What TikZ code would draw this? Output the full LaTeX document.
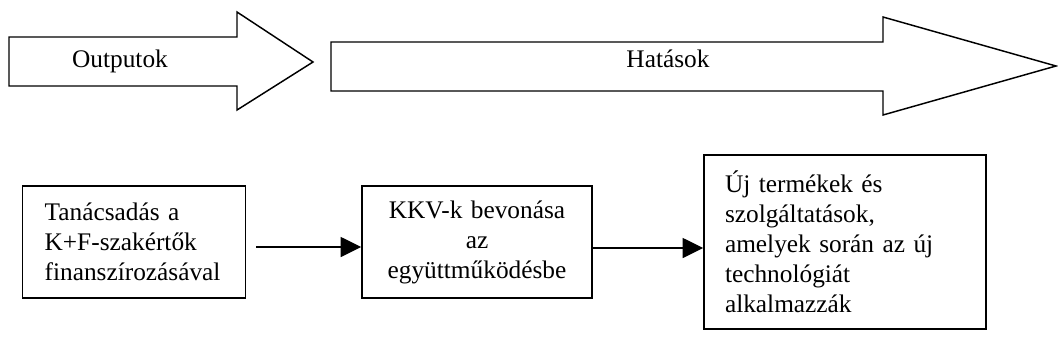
\documentclass[tikz,border=0pt]{standalone}
\usepackage{fontspec}
\setmainfont{Liberation Serif}
\usetikzlibrary{arrows.meta,calc}
\begin{document}
\begin{tikzpicture}[x=0.75pt,y=-0.75pt,
  line join=miter,
  bigarrow/.style={draw=black,line width=1.1pt,fill=white},
  lbl/.style={font=\fontsize{19pt}{22.5pt}\selectfont,anchor=base,inner sep=0pt},
  stepbox/.style={draw=black,line width=1.1pt,font=\fontsize{19pt}{22.5pt}\selectfont,inner ysep=0pt},
  conn/.style={line width=1.1pt,-{Triangle[length=15.5pt,width=15pt]}}]
\useasboundingbox (0,0) rectangle (1058,361);
% outputs arrow
\draw[bigarrow] (9,37) -- (237,37) -- (237,12) -- (313,62) -- (237,110) -- (237,86) -- (9,86) -- cycle;
\node[lbl] (outl) at (120,67) {Outputok};
% impacts arrow
\draw[bigarrow] (331,42) -- (883,42) -- (883,17) -- (1056,66) -- (883,115) -- (883,91) -- (331,91) -- cycle;
\node[lbl] (hatl) at (668,67) {Hatások};
% boxes
\node[stepbox,minimum width=165pt,minimum height=84pt,text width=134pt,inner xsep=16.5pt,align=left] (b1) at (134,242)
  {Tanácsadás a\\K+F-szakértők\\finanszírozásával};
\node[stepbox,minimum width=172.5pt,minimum height=84pt,text width=160pt,inner xsep=6pt,align=center] (b2) at (477,242)
  {KKV-k bevonása\\az\\együttműködésbe};
\node[stepbox,minimum width=196.5pt,minimum height=130.5pt,text width=180pt,inner xsep=15.75pt,align=left] (b3) at (845,242)
  {Új termékek és\\szolgáltatások,\\amelyek során az új\\technológiát\\alkalmazzák};
% connectors
\draw[conn,shorten <=7.5pt] ([yshift=-3.75pt]b1.east) -- ([yshift=-3.75pt]b2.west);
\draw[conn] ([yshift=-4.5pt]b2.east) -- ([yshift=-4.5pt]b3.west);
\end{tikzpicture}
\end{document}
